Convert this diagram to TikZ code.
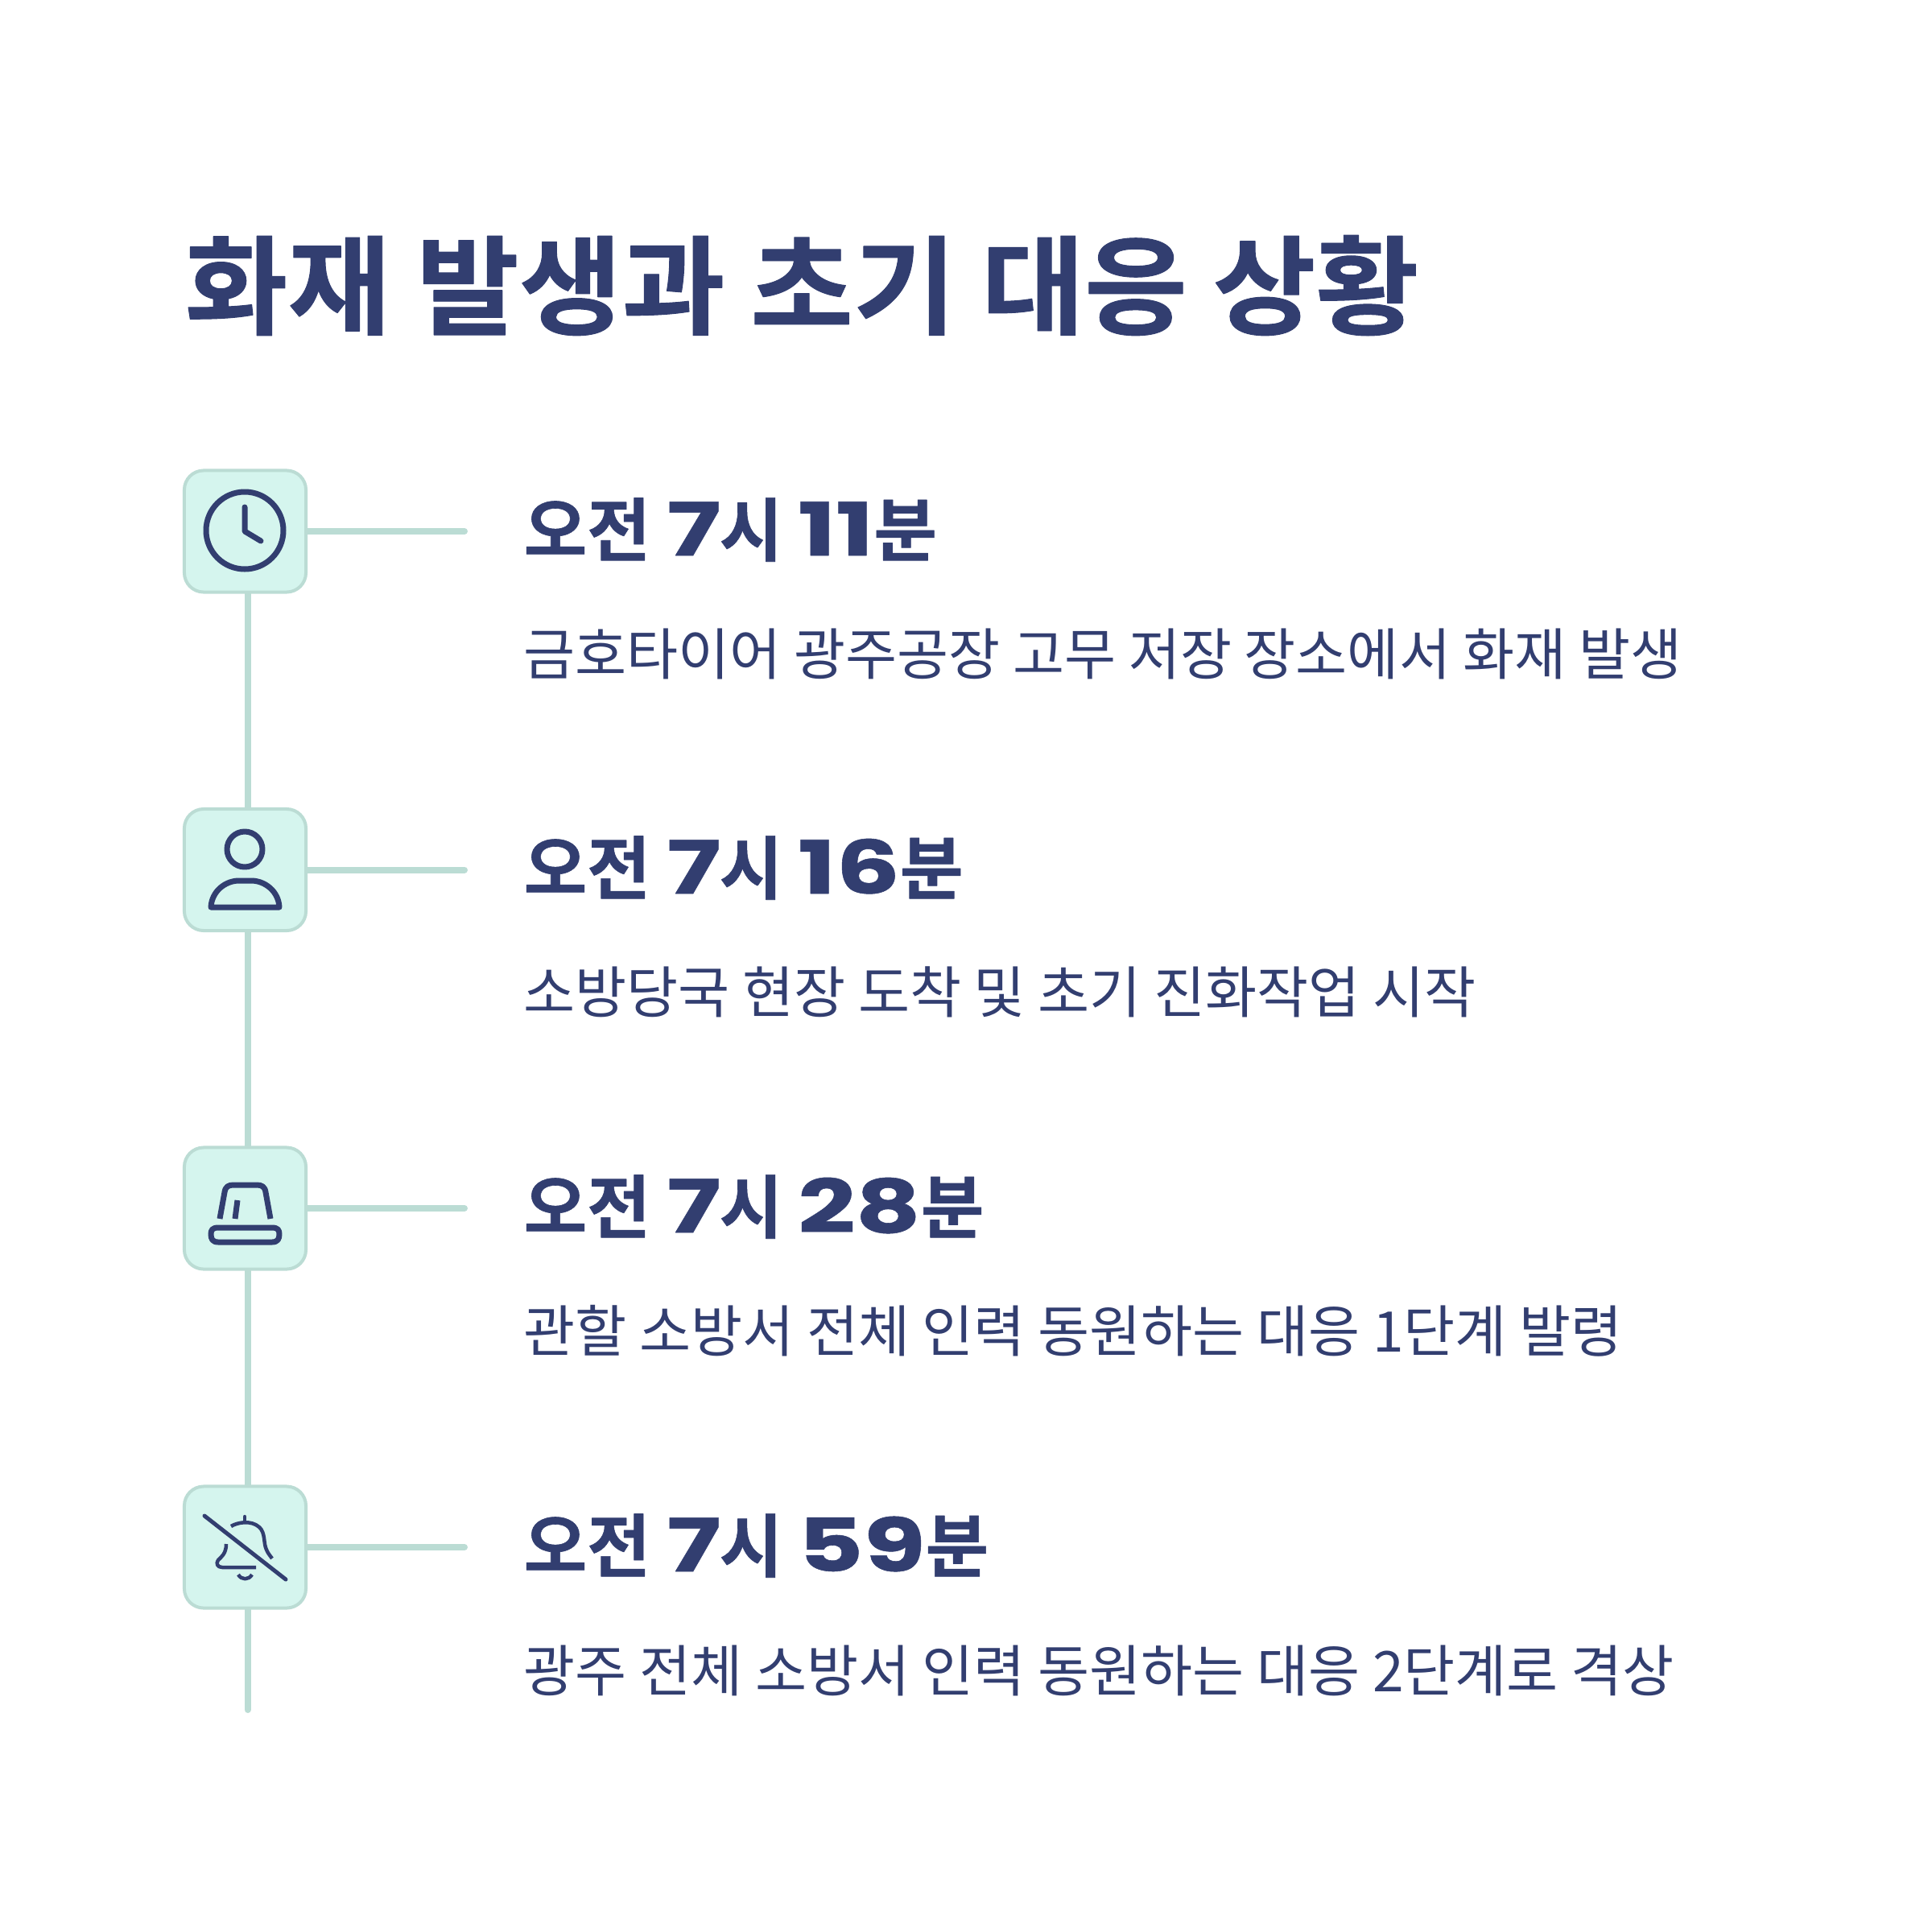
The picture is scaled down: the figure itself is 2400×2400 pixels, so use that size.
\documentclass[tikz,border=0pt]{standalone}
\usepackage{fontspec}
\setmainfont{Noto Sans CJK KR}
\newfontfamily\bigfont[FakeStretch=1.04,FakeBold=0.7]{Noto Sans CJK KR Bold}
\newfontfamily\headfont[FakeBold=0.7]{Noto Sans CJK KR Bold}
\newfontfamily\digitfont[FakeStretch=1.37,FakeBold=0.6]{Poppins Bold}
\definecolor{navy}{HTML}{323E70}
\definecolor{mintfill}{HTML}{D5F5EE}
\definecolor{mintline}{HTML}{BBDCD4}
\newcommand{\hd}[1]{{\digitfont\fontsize{26}{27}\selectfont #1}}
\tikzset{
  iconbox/.style={draw=mintline, fill=mintfill, line width=0.04cm, rounded corners=0.24cm, minimum size=1.51cm, inner sep=0pt},
  spine/.style={draw=mintline, line width=0.08cm},
  icon/.style={draw=navy, line width=0.07cm},
  titletext/.style={anchor=base west, inner sep=0pt, text=navy, font=\bigfont\fontsize{38}{40}\selectfont},
  timetext/.style={anchor=base west, inner sep=0pt, text=navy, font=\headfont\fontsize{24.3}{26}\selectfont},
  desctext/.style={anchor=base west, inner sep=0pt, text=navy, font=\fontsize{19.8}{24}\selectfont}
}
\begin{document}
\begin{tikzpicture}[x=0.01cm, y=-0.01cm, line cap=round, line join=round]
  \useasboundingbox (0, 0) rectangle (2400, 2400);

  % Title
  \node[titletext] (title) at (229, 405) {화재 발생과 초기 대응 상황};

  % Free ends of the connectors
  \coordinate (end1) at (577, 660);
  \coordinate (end2) at (577, 1080.5);
  \coordinate (end3) at (577, 1501);
  \coordinate (end4) at (577, 1922);
  \coordinate (tail) at (307.5, 2124);
  \coordinate (top1) at (307.5, 736);
  \coordinate (bot2) at (307.5, 1004);
  \coordinate (top2) at (307.5, 1156);
  \coordinate (bot3) at (307.5, 1425);
  \coordinate (top3) at (307.5, 1578);
  \coordinate (bot4) at (307.5, 1846);
  \coordinate (top4) at (307.5, 1998);

  % Connectors
  \draw[spine] (top1) -- (bot2);
  \draw[spine] (top2) -- (bot3);
  \draw[spine] (top3) -- (bot4);
  \draw[spine] (top4) -- (tail);

  % Icon boxes
  \node[iconbox] (box1) at (304.5, 660) {};
  \node[iconbox] (box2) at (304.5, 1080.5) {};
  \node[iconbox] (box3) at (304.5, 1501) {};
  \node[iconbox] (box4) at (304.5, 1922) {};

  \draw[spine] (box1) -- (end1);
  \draw[spine] (box2) -- (end2);
  \draw[spine] (box3) -- (end3);
  \draw[spine] (box4) -- (end4);

  % Clock
  \draw[icon] (304, 659) circle (48);
  \draw[icon] (304, 630) -- (304, 660) -- (324, 672);

  % Person
  \draw[icon] (304, 1055) circle (22);
  \draw[icon] (262, 1127) .. controls (263, 1107) and (280, 1094) .. (297, 1094) -- (312, 1094)
    .. controls (329, 1094) and (346, 1107) .. (347, 1127) -- cycle;

  % Beacon
  \draw[icon, line cap=butt] (273, 1514) -- (279, 1481) .. controls (280, 1474) and (284, 1472) .. (290, 1472)
    -- (319, 1472) .. controls (325, 1472) and (329, 1474) .. (330, 1481) -- (336, 1514);
  \draw[icon, line cap=butt] (295, 1491) -- (292, 1514);
  \draw[icon] (271, 1525) -- (338, 1525) .. controls (345, 1525) and (347, 1528) .. (347, 1533)
    .. controls (347, 1539) and (345, 1543) .. (338, 1543) -- (271, 1543)
    .. controls (264, 1543) and (262, 1539) .. (262, 1533) .. controls (262, 1528) and (264, 1525) .. (271, 1525) -- cycle;

  % Bell
  \draw[icon, line width=0.05cm] (254, 1883) -- (355, 1962);
  \draw[icon, line width=0.045cm, line cap=butt] (287, 1896) .. controls (295, 1891) and (312, 1888) .. (322, 1897)
    .. controls (330, 1904) and (327, 1917) .. (331, 1925) .. controls (333, 1930) and (336, 1933) .. (338, 1936);
  \draw[icon, line width=0.045cm] (304, 1884) -- (304, 1889);
  \draw[icon, line width=0.045cm, line cap=butt] (281, 1918) .. controls (281, 1930) and (275, 1934) .. (271, 1938)
    .. controls (268, 1942) and (270, 1947) .. (276, 1947) -- (318, 1947);
  \draw[icon, line width=0.045cm, line cap=butt] (296, 1956) .. controls (300, 1963) and (309, 1963) .. (313, 1956);

  % Entries
  \node[timetext] (time1) at (650, 690) {오전\hspace{0.24em}\hd{7}\hspace{-0.02em}시\hspace{0.22em}\hd{11}분};
  \node[desctext] (desc1) at (650, 838) {금호타이어 광주공장 고무 저장 장소에서 화재 발생};

  \node[timetext] (time2) at (650, 1110) {오전\hspace{0.24em}\hd{7}\hspace{-0.02em}시\hspace{0.22em}\hd{16}분};
  \node[desctext] (desc2) at (650, 1258) {소방당국 현장 도착 및 초기 진화작업 시작};

  \node[timetext] (time3) at (650, 1531) {오전\hspace{0.24em}\hd{7}\hspace{-0.02em}시\hspace{0.22em}\hd{28}분};
  \node[desctext] (desc3) at (650, 1679) {관할 소방서 전체 인력 동원하는 대응 1단계 발령};

  \node[timetext] (time4) at (650, 1952) {오전\hspace{0.24em}\hd{7}\hspace{-0.02em}시\hspace{0.22em}\hd{59}분};
  \node[desctext] (desc4) at (650, 2101) {광주 전체 소방서 인력 동원하는 대응 2단계로 격상};
\end{tikzpicture}
\end{document}
